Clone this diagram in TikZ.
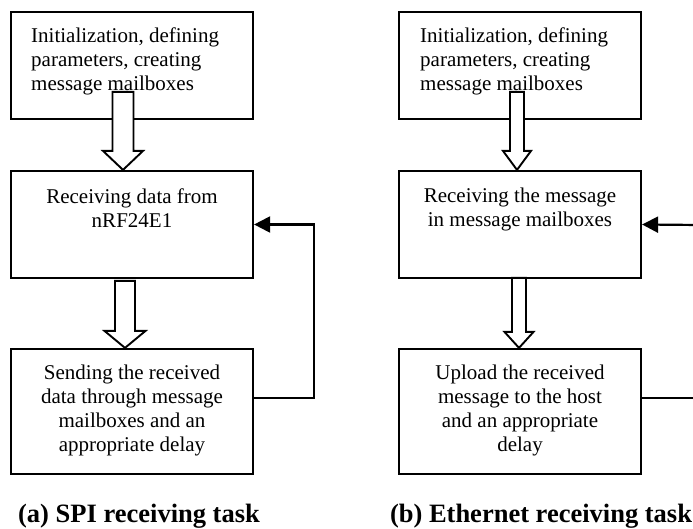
\documentclass[tikz,border=0pt]{standalone}
\usepackage{fontspec}
\setmainfont{Liberation Serif}
\usetikzlibrary{arrows.meta,calc}
\begin{document}
\begin{tikzpicture}[x=1pt,y=-1pt,
  box/.style={draw,line width=2.2pt,minimum width=242pt,inner sep=0pt},
  txt/.style={inner sep=0pt,font=\fontsize{21}{24}\selectfont},
  hollow/.style={draw,fill=white,line width=1.9pt,line join=miter},
  fb/.style={draw,line width=2.2pt},
  fbtip/.style={-{Triangle[length=16pt,width=16pt]}},
  captxt/.style={inner sep=0pt,font=\fontsize{26.5}{30}\selectfont\bfseries}]
\useasboundingbox (0,0) rectangle (693,529);

% ---- (a) SPI receiving task ----
\node[box,minimum height=107pt] (a1) at (132,65.5) {};
\node[box,minimum height=107pt] (a2) at (132,224.5) {};
\node[box,minimum height=125pt] (a3) at (132,411.5) {};
\node[txt,anchor=north west,align=left] (ta1) at (31,27.7)
  {Initialization, defining\\parameters, creating\\message mailboxes};
\node[txt,anchor=north,align=center] (ta2) at (132,188.7)
  {Receiving data from\\nRF24E1};
\node[txt,anchor=north,align=center] (ta3) at (132,364.7)
  {Sending the received\\data through message\\mailboxes and an\\appropriate delay};

\draw[hollow] ($(a2.north)+(-9,0)$) -- ++(-20,-19) -- ++(9.5,0) -- ++(0,-59)
  -- ++(21,0) -- ++(0,59) -- ++(9.5,0) -- cycle;
\draw[hollow] ($(a3.north)+(-7,0)$) -- ++(-20.5,-17) -- ++(10.5,0) -- ++(0,-50)
  -- ++(20,0) -- ++(0,50) -- ++(10.5,0) -- cycle;
\draw[fb,fbtip] ([yshift=13.5pt]a3.east) -- ++(60,0) |- (a2.east);

\node[captxt] (ca) at (139,516) {(a) SPI receiving task};

% ---- (b) Ethernet receiving task ----
\node[box,minimum height=107pt] (b1) at (520,65.5) {};
\node[box,minimum height=107pt] (b2) at (520,224.5) {};
\node[box,minimum height=125pt] (b3) at (520,411.5) {};
\node[txt,anchor=north west,align=left] (tb1) at (420,27.7)
  {Initialization, defining\\parameters, creating\\message mailboxes};
\node[txt,anchor=north,align=center] (tb2) at (520,187.7)
  {Receiving the message\\in message mailboxes};
\node[txt,anchor=north,align=center] (tb3) at (520,364.7)
  {Upload the received\\message to the host\\and an appropriate\\delay};

\draw[hollow] ($(b2.north)+(-3,0)$) -- ++(-14,-19) -- ++(7,0) -- ++(0,-59)
  -- ++(14,0) -- ++(0,59) -- ++(7,0) -- cycle;
\draw[hollow] ($(b3.north)+(-1,0)$) -- ++(-14.5,-16) -- ++(7.5,0) -- ++(0,-54)
  -- ++(14,0) -- ++(0,54) -- ++(7.5,0) -- cycle;
\coordinate (rin) at (700,225);
\coordinate (rout) at (700,398);
\draw[fb,fbtip] (rin) -- (b2.east);
\draw[fb] ([yshift=13.5pt]b3.east) -- (rout);

\node[captxt] (cb) at (541,516) {(b) Ethernet receiving task};
\end{tikzpicture}
\end{document}
